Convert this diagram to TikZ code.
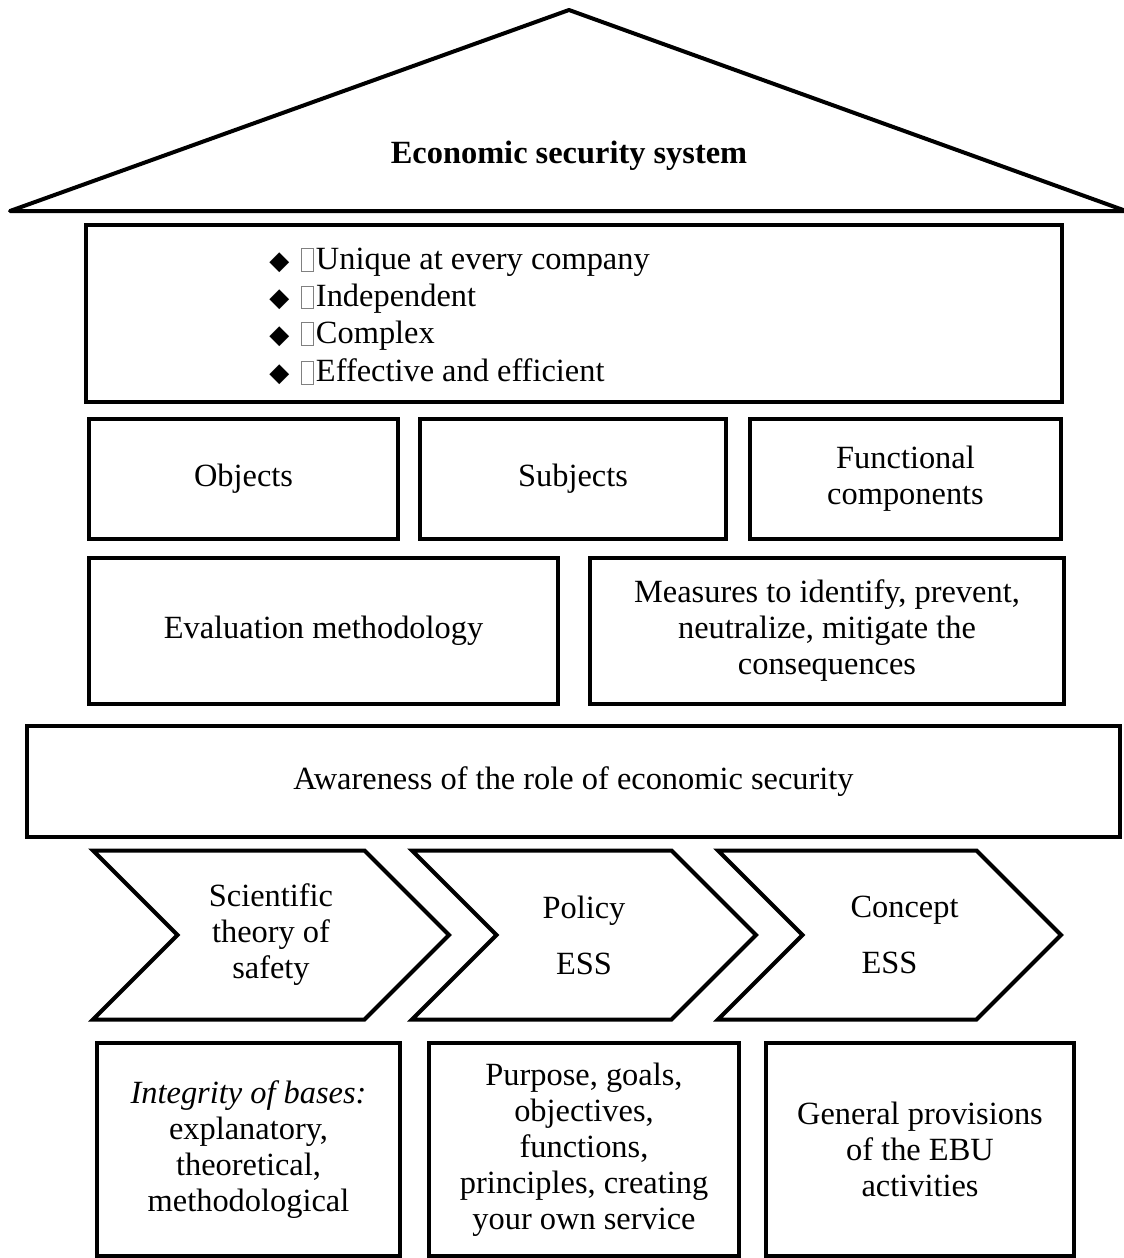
\documentclass[tikz,border=0pt]{standalone}
\usepackage{fontspec}
\setmainfont{Liberation Serif}
\newfontfamily\symfont{DejaVu Sans}
\usetikzlibrary{shapes.symbols}

\tikzset{
  block/.style={draw, line width=2pt, align=center, inner sep=2pt},
  arrowbox/.style={draw, line width=2pt, align=center, shape=signal,
    signal to=east, signal from=west, signal pointer angle=90,
    minimum height=84.5pt, inner sep=0pt},
}
\newcommand{\itembul}{{\symfont\fontsize{13}{13}\selectfont ◆}\hspace{6pt}{\color{gray}\fboxsep=0pt\fboxrule=0.4pt\fbox{\phantom{\rule[-1pt]{5.5pt}{11pt}}}}\hspace{1pt}}

\begin{document}
\begin{tikzpicture}[x=0.5pt,y=-0.5pt,font=\fontsize{16.2}{18}\selectfont]
    \useasboundingbox (0,0) rectangle (1124,1258);

    % Roof
    \coordinate (L) at (10,211);
    \coordinate (T) at (569,10);
    \coordinate (R) at (1126,211);
    \draw[line width=2pt, line join=round] (L) -- (T) -- (R) -- cycle;
    \node[font=\fontsize{16.2}{18}\selectfont\bfseries] (roof) at (569,156) {Economic security system};

    % Properties
    \node[block, minimum width=488pt, minimum height=88.5pt] (props) at (574,313.5) {};
    \foreach \txt [count=\i from 0] in {Unique at every company, Independent, Complex, Effective and efficient}
        \node[anchor=west, inner sep=0pt] (item\i) at (269,262+36.7*\i) {\itembul\txt};

    % Row of three
    \node[block, minimum width=154.5pt, minimum height=60pt] (obj) at (243.5,479) {Objects};
    \node[block, minimum width=153pt, minimum height=60pt] (subj) at (573,479) {Subjects};
    \node[block, minimum width=155.5pt, minimum height=60pt] (func) at (905.5,479) {Functional\\components};

    % Row of two
    \node[block, minimum width=234.5pt, minimum height=73pt] (eval) at (323.5,631) {Evaluation methodology};
    \node[block, minimum width=237pt, minimum height=73pt] (meas) at (827,631) {Measures to identify, prevent,\\neutralize, mitigate the\\consequences};

    % Awareness
    \node[block, minimum width=546.5pt, minimum height=55.5pt] (aware) at (573.5,781.5) {Awareness of the role of economic security};

    % Chevrons
    \node[arrowbox, minimum width=178pt] (sci) at (271,935) {Scientific\\theory of\\safety};
    \node[arrowbox, minimum width=172pt] (pol) at (584,935) {Policy\\[10pt]ESS};
    \node[arrowbox, minimum width=171.5pt] (con) at (889.5,935) {\hspace*{15pt}Concept\\[10pt]ESS};

    % Foundations
    \node[block, minimum width=151.5pt, minimum height=106.5pt] (base) at (248.5,1149.5) {\textit{Integrity of bases:}\\explanatory,\\theoretical,\\methodological};
    \node[block, minimum width=155pt, minimum height=106.5pt] (goal) at (584,1149.5) {Purpose, goals,\\objectives,\\functions,\\principles, creating\\your own service};
    \node[block, minimum width=154pt, minimum height=106.5pt] (prov) at (920,1149.5) {General provisions\\of the EBU\\activities};
\end{tikzpicture}
\end{document}
